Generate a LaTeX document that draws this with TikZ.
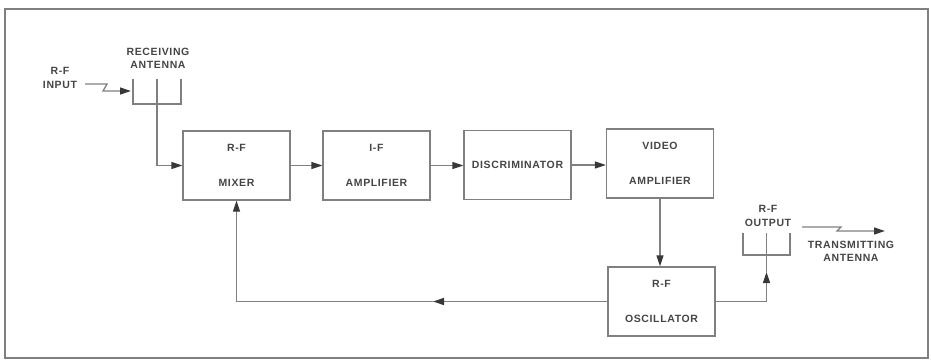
\documentclass[tikz,border=0pt]{standalone}
\usepackage{fontspec}
\setmainfont[LetterSpace=6]{Liberation Sans}
\usetikzlibrary{arrows.meta}
\definecolor{ink}{HTML}{454545}
\definecolor{wire}{HTML}{808080}
\definecolor{tipc}{HTML}{383838}
\begin{document}
\begin{tikzpicture}[x=1pt,y=-1pt,
  lbl/.style={text=ink,font=\fontsize{10.5}{13.5}\selectfont\bfseries,align=center,inner sep=0pt},
  blk/.style={draw=wire,line width=1.3pt,minimum width=107pt,minimum height=69pt,inner sep=0pt,
              text=ink,font=\fontsize{10.5}{13.5}\selectfont\bfseries,align=center},
  ln/.style={draw=wire,line width=1.3pt},
  arr/.style={ln,-{Triangle[length=11pt,width=7pt,color=tipc]}}]
\useasboundingbox (0,0) rectangle (931,361);
\draw[draw=wire,line width=1.1pt] (5,9) rectangle (928,358);
% blocks
\node[blk] (mixer) at (236.5,165.5) {R-F\\[21.5pt]MIXER};
\node[blk] (ifamp) at (376.5,165.5) {I-F\\[21.5pt]AMPLIFIER};
\node[blk] (disc) at (517.5,165) {DISCRIMINATOR};
\node[blk] (video) at (660,163.5) {VIDEO\\[21.5pt]AMPLIFIER};
\node[blk] (osc) at (661.5,301.5) {R-F\\[21.5pt]OSCILLATOR};
% labels
\node[lbl] (rfin) at (60,78) {R-F\\INPUT};
\node[lbl] (recant) at (158,58.5) {RECEIVING\\ANTENNA};
\node[lbl] (rfout) at (768,216) {R-F\\OUTPUT};
\node[lbl] (trant) at (851,251.5) {TRANSMITTING\\ANTENNA};
% receiving antenna
\draw[ln] (133,79) -- (133,104) -- (181,104) -- (181,79);
\coordinate (rtop) at (157,79);
\coordinate (rbot) at (157,104);
\draw[ln] (rtop) -- (rbot);
\draw[arr] (rbot) |- (mixer.west);
% input zigzag
\coordinate (zin) at (85,84);
\coordinate (zinend) at (131,91);
\draw[arr] (zin) -- (107,84) -- (103,91) -- (zinend);
% chain
\draw[arr] (mixer.east) -- (ifamp.west);
\draw[arr] (ifamp.east) -- (disc.west |- ifamp.east);
\draw[arr] (disc.east) -- (video.west |- disc.east);
\draw[arr] (video.south) -- (video.south |- osc.north);
% feedback
\coordinate (fbmid) at (433,301.5);
\draw[arr] (osc.west) -- (fbmid);
\draw[ln] (fbmid) -- (236.5,301.5);
\draw[arr] (236.5,301.5) -- (mixer.south);
% transmitting antenna
\draw[ln] (743,233) -- (743,255) -- (790,255) -- (790,233);
\coordinate (ttop) at (766.5,233);
\coordinate (tbot) at (766.5,255);
\draw[ln] (ttop) -- (tbot);
\coordinate (tmid) at (766.5,272);
\draw[arr] (osc.east) -| (tmid);
\draw[ln] (tmid) -- (tbot);
% output zigzag
\coordinate (zout) at (802,227);
\coordinate (zoutend) at (885,231);
\draw[arr] (zout) -- (841,227) -- (837,231) -- (zoutend);
\end{tikzpicture}
\end{document}
